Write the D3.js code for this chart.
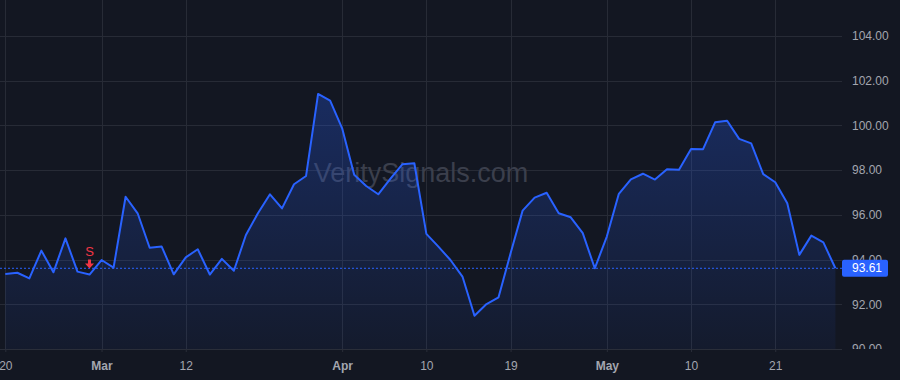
<!DOCTYPE html>
<html>
<meta charset="utf-8">
<head>
  <title>Price line</title>
</head>
<style>
body { margin: 0; background: #131722; }
text { font-family: "Liberation Sans", Arial, Helvetica, sans-serif; }
.tick text { fill: #a3a6af; font-size: 12px; }
</style>
<body>
<svg width="900" height="380"></svg>
<script src="https://cdnjs.cloudflare.com/ajax/libs/d3/7.8.5/d3.min.js"></script>
<script>

// closing prices, one per trading day from Feb 20
var prices = [
  93.36, 93.41, 93.16, 94.40, 93.43, 94.95, 93.46, 93.33, 93.98, 93.64,
  96.81, 96.07, 94.53, 94.58, 93.34, 94.10, 94.46, 93.33, 94.03, 93.50,
  95.10, 96.07, 96.92, 96.29, 97.37, 97.74, 101.41, 101.11, 99.87, 97.79,
  97.29, 96.92, 97.61, 98.26, 98.31, 95.15, 94.58, 93.98, 93.24, 91.49,
  92.01, 92.31, 94.28, 96.19, 96.77, 96.99, 96.07, 95.89, 95.18, 93.61,
  95.03, 96.94, 97.59, 97.84, 97.58, 98.04, 98.02, 98.95, 98.94, 100.14,
  100.21, 99.40, 99.20, 97.82, 97.46, 96.52, 94.21, 95.07, 94.77, 93.61
];

// time axis labels (index into prices)
var tickIdx = [0, 8, 15, 28, 35, 42, 50, 57, 64];
var tickLabels = ["20", "Mar", "12", "Apr", "10", "19", "May", "10", "21"];
var monthTicks = ["Mar", "Apr", "May"];

var yTicks = [90, 92, 94, 96, 98, 100, 102, 104];

// sell signal
var signalIdx = 7;
var signalText = "S";

var lastPrice = 93.61;

var W = 900, H = 380;
var plotR = 842, plotB = 349;

var svg = d3.select("svg");

var x = d3.scaleLinear().domain([0, 69]).range([5.3, 835.4]);
var y = d3.scaleLinear().domain([90, 104]).range([349, 36]);

var defs = svg.append("defs");
var grad = defs.append("linearGradient")
  .attr("id", "areaGrad").attr("x1", 0).attr("y1", 0).attr("x2", 0).attr("y2", 1);
grad.append("stop").attr("offset", "0%").attr("stop-color", "#2962ff").attr("stop-opacity", 0.28);
grad.append("stop").attr("offset", "100%").attr("stop-color", "#2962ff").attr("stop-opacity", 0.05);

defs.append("clipPath").attr("id", "plotClip")
  .append("rect").attr("x", 0).attr("y", 0).attr("width", plotR).attr("height", plotB);

// grid
var grid = svg.append("g");
grid.selectAll("line.h")
  .data(yTicks)
  .enter().append("line")
  .attr("x1", 0).attr("x2", plotR)
  .attr("y1", function(d) { return Math.round(y(d)) + 0.5; })
  .attr("y2", function(d) { return Math.round(y(d)) + 0.5; })
  .attr("stroke", "#272b36");
grid.selectAll("line.v")
  .data(tickIdx)
  .enter().append("line")
  .attr("y1", 0).attr("y2", plotB)
  .attr("x1", function(d) { return Math.round(x(d)) + 0.5; })
  .attr("x2", function(d) { return Math.round(x(d)) + 0.5; })
  .attr("stroke", "#272b36");

// watermark
svg.append("text")
  .attr("x", 421).attr("y", 182)
  .attr("text-anchor", "middle")
  .attr("font-size", "27px")
  .attr("fill", "#3b3f4c")
  .text("VeritySignals.com");

var plot = svg.append("g").attr("clip-path", "url(#plotClip)");

var area = d3.area()
  .x(function(d, i) { return x(i); })
  .y0(plotB)
  .y1(function(d) { return y(d); });

var line = d3.line()
  .x(function(d, i) { return x(i); })
  .y(function(d) { return y(d); });

plot.append("path")
  .datum(prices)
  .attr("d", area)
  .attr("fill", "url(#areaGrad)");

plot.append("path")
  .datum(prices)
  .attr("d", line)
  .attr("fill", "none")
  .attr("stroke", "#2962ff")
  .attr("stroke-width", 2)
  .attr("stroke-linejoin", "round");

// last price line
plot.append("line")
  .attr("x1", 0).attr("x2", plotR)
  .attr("y1", y(lastPrice)).attr("y2", y(lastPrice))
  .attr("stroke", "#2962ff")
  .attr("stroke-dasharray", "2,2");

// signal marker
var sx = x(signalIdx), sy = y(prices[signalIdx]);
var sig = svg.append("g").attr("transform", "translate(" + sx + "," + sy + ")");
sig.append("text")
  .attr("y", -18.5)
  .attr("text-anchor", "middle")
  .attr("font-size", "13px")
  .attr("fill", "#f23645")
  .text(signalText);
sig.append("path")
  .attr("d", "M-1.5,-15 L1.5,-15 L1.5,-11 L4.5,-11 L0,-6 L-4.5,-11 L-1.5,-11 Z")
  .attr("fill", "#f23645");

// bottom border
svg.append("line")
  .attr("x1", 0).attr("x2", plotR)
  .attr("y1", plotB + 0.5).attr("y2", plotB + 0.5)
  .attr("stroke", "#2a2e39");

// time axis
var xAxis = d3.axisBottom(x)
  .tickValues(tickIdx)
  .tickSize(3)
  .tickPadding(9)
  .tickFormat(function(d) { return tickLabels[tickIdx.indexOf(d)]; });

var xg = svg.append("g")
  .attr("transform", "translate(0," + plotB + ")")
  .call(xAxis);
xg.select(".domain").remove();
xg.selectAll(".tick line").attr("stroke", "#2a2e39");
xg.selectAll(".tick text")
  .attr("font-weight", function(d) {
    return monthTicks.indexOf(tickLabels[tickIdx.indexOf(d)]) >= 0 ? "bold" : "normal";
  });

// price axis
defs.append("clipPath").attr("id", "axisClip")
  .append("rect").attr("x", plotR).attr("y", 0).attr("width", W - plotR).attr("height", plotB);

var yAxis = d3.axisRight(y)
  .tickValues(yTicks)
  .tickSize(0)
  .tickPadding(10)
  .tickFormat(d3.format(".2f"));

var yg = svg.append("g")
  .attr("clip-path", "url(#axisClip)")
  .append("g")
  .attr("transform", "translate(" + plotR + ",0)")
  .call(yAxis);
yg.select(".domain").remove();

// last price label
var ly = y(lastPrice);
svg.append("rect")
  .attr("x", plotR).attr("y", ly - 8.5)
  .attr("width", 46).attr("height", 17)
  .attr("rx", 2)
  .attr("fill", "#2962ff");
svg.append("text")
  .attr("x", plotR + 10).attr("y", ly + 4)
  .attr("font-size", "12px")
  .attr("fill", "#ffffff")
  .text(d3.format(".2f")(lastPrice));

</script>
</body>
</html>
